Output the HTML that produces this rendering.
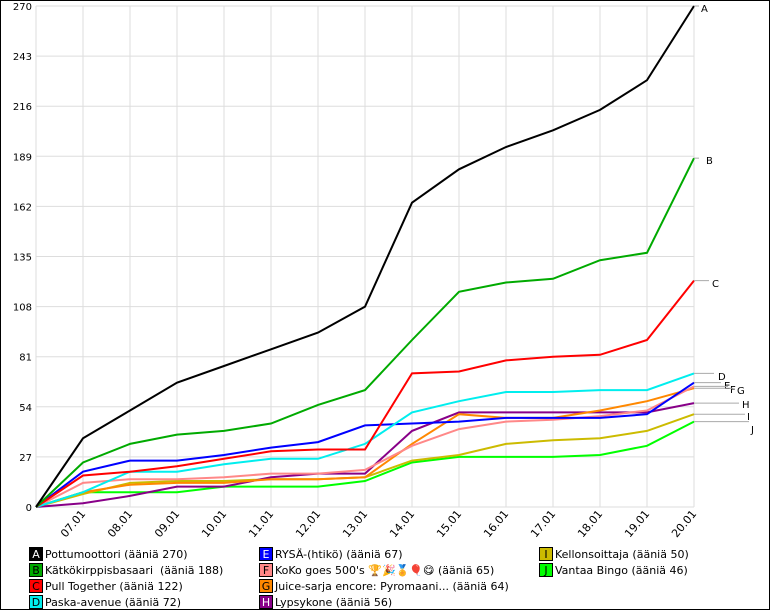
<!DOCTYPE html>
<html><head><meta charset="utf-8"><style>
body{margin:0;background:#fff;}
#w{position:relative;width:768px;height:608px;border:1px solid #000;overflow:hidden;font-family:"DejaVu Sans","Liberation Sans",sans-serif;font-size:11px;}
.lg{position:absolute;height:15px;line-height:15px;white-space:nowrap;font-size:11px}
.lg b{display:inline-block;width:14px;height:14px;border:1px solid #000;box-sizing:border-box;text-align:center;font-weight:normal;line-height:13px;margin-right:2px;vertical-align:top}
</style></head><body><div id="w">
<svg id="s" width="768" height="540" style="position:absolute;left:0;top:0" font-family="DejaVu Sans, Liberation Sans, sans-serif" font-size="10"></svg>
<div class="lg" style="left:28px;top:546px"><b style="background:#000;color:#fff">A</b>Pottumoottori (ääniä 270)</div>
<div class="lg" style="left:28px;top:562px"><b style="background:#0a0;color:#000">B</b>Kätkökirppisbasaari &nbsp;(ääniä 188)</div>
<div class="lg" style="left:28px;top:578px"><b style="background:#f00">C</b>Pull Together (ääniä 122)</div>
<div class="lg" style="left:28px;top:594px"><b style="background:#0ee">D</b>Paska-avenue (ääniä 72)</div>
<div class="lg" style="left:258px;top:546px"><b style="background:#00f;color:#fff">E</b>RYSÄ-(htikö) (ääniä 67)</div>
<div class="lg" style="left:258px;top:562px"><b style="background:#f88">F</b>KoKo goes 500's 🏆🎉🏅🎈😋 (ääniä 65)</div>
<div class="lg" style="left:258px;top:578px"><b style="background:#f80">G</b>Juice-sarja encore: Pyromaani... (ääniä 64)</div>
<div class="lg" style="left:258px;top:594px"><b style="background:#808;color:#fff">H</b>Lypsykone (ääniä 56)</div>
<div class="lg" style="left:538px;top:546px"><b style="background:#cb0">I</b>Kellonsoittaja (ääniä 50)</div>
<div class="lg" style="left:538px;top:562px"><b style="background:#0f0">J</b>Vantaa Bingo (ääniä 46)</div>
</div>
<script>
var s=document.getElementById('s'),h='';
function X(i){return 35+i*47}function Y(v){return 506-v*501/270}
for(var k=0;k<=10;k++){var y=Y(k*27);h+='<line x1="35" x2="693" y1="'+y+'" y2="'+y+'" stroke="#ddd"/>';h+='<text x="31" y="'+(y+4)+'" text-anchor="end">'+(k*27)+'</text>';}
for(var i=1;i<=14;i++){h+='<line x1="'+X(i)+'" x2="'+X(i)+'" y1="5" y2="506" stroke="#ddd"/>';var d=(i+6<10?'0':'')+(i+6)+'.01';h+='<text transform="translate('+(X(i)+3)+',513) rotate(-50)" text-anchor="end" font-size="11">'+d+'</text>';}
h+='<line x1="35" x2="35" y1="5" y2="506" stroke="#ddd"/>';
var S=[
['#000',[0,37,52,67,76,85,94,108,164,182,194,203,214,230,270],'A',700,11,0],
['#0a0',[0,24,34,39,41,45,55,63,90,116,121,123,133,137,188],'B',705,163,0],
['#f00',[0,17,19,22,26,30,31,31,72,73,79,81,82,90,122],'C',711,286,708],
['#0ee',[0,8,19,19,23,26,26,34,51,57,62,62,63,63,72],'D',717,379,713],
['#00f',[0,19,25,25,28,32,35,44,45,46,48,48,48,50,67],'E',723,388,720],
['#f88',[0,13,15,15,16,18,18,20,33,42,46,47,49,52,65],'F',729,392,727],
['#f80',[0,8,12,13,13,15,15,16,34,50,48,48,52,57,64],'G',736,393,732],
['#808',[0,2,6,11,11,16,18,18,41,51,51,51,51,51,56],'H',741,407,738],
['#cb0',[0,7,13,14,14,15,15,16,25,28,34,36,37,41,50],'I',746,419,744],
['#0f0',[0,8,8,8,11,11,11,14,24,27,27,27,28,33,46],'J',750,432,748]];
for(var j=S.length-1;j>=0;j--){var p=S[j][1].map(function(v,i){return X(i)+','+Y(v).toFixed(1)}).join(' ');
h+='<polyline points="'+p+'" fill="none" stroke="'+S[j][0]+'" stroke-width="2"/>';}
S.forEach(function(e){var y=Y(e[1][14]);var x2=e[5]||698;h+='<line x1="693" x2="'+x2+'" y1="'+y+'" y2="'+y+'" stroke="#aaa"/>';h+='<text x="'+e[3]+'" y="'+e[4]+'">'+e[2]+'</text>';});
s.innerHTML=h;
</script>
</body></html>
